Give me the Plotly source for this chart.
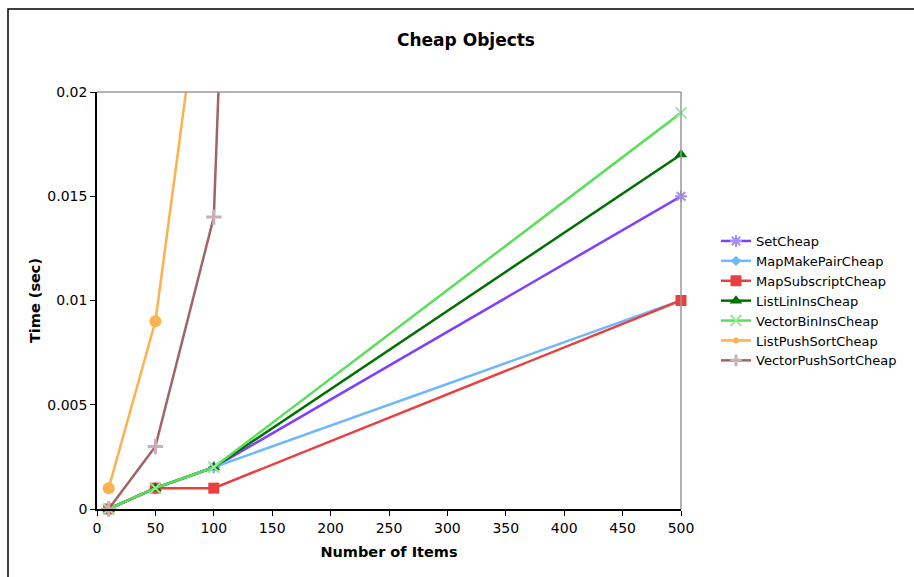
import plotly.graph_objects as go

items = [10, 50, 100, 500]
series_names = ["SetCheap", "MapMakePairCheap", "MapSubscriptCheap", "ListLinInsCheap",
                "VectorBinInsCheap", "ListPushSortCheap", "VectorPushSortCheap"]
set_cheap = [0.0, 0.001, 0.002, 0.015]
map_make_pair = [0.0, 0.001, 0.002, 0.010]
map_subscript = [0.0, 0.001, 0.001, 0.010]
list_lin_ins = [0.0, 0.001, 0.002, 0.017]
vector_bin_ins = [0.0, 0.001, 0.002, 0.019]
list_push_sort = [0.001, 0.009, 0.030, 0.70]
vector_push_sort = [0.0, 0.003, 0.014, 0.62]

x_ticks = list(range(0, 501, 50))
y_ticks = [0, 0.005, 0.01, 0.015, 0.02]
y_tick_labels = ["0", "0.005", "0.01", "0.015", "0.02"]

styles = [
    dict(color="#7F3FFF", mcolor="#A98BFF", symbol="asterisk", size=10, mline=2),
    dict(color="#6FB7FF", mcolor="#6FB7FF", symbol="diamond", size=8, mline=0),
    dict(color="#E84040", mcolor="#E84040", symbol="square", size=11, mline=0),
    dict(color="#007000", mcolor="#007000", symbol="triangle-up", size=11, mline=0),
    dict(color="#5ADF5A", mcolor="#9BE89B", symbol="x-thin", size=11, mline=2),
    dict(color="#FFB04F", mcolor="#FFB04F", symbol="circle", size=12, mline=0),
    dict(color="#A06464", mcolor="#C9AFB8", symbol="cross-thin", size=11, mline=3),
]
data = [set_cheap, map_make_pair, map_subscript, list_lin_ins,
        vector_bin_ins, list_push_sort, vector_push_sort]

fig = go.Figure()
for name, ys, st in zip(series_names, data, styles):
    sizes = [st["size"] if y <= 0.0201 else 0 for y in ys]
    fig.add_trace(go.Scatter(
        x=items, y=ys, name=name, mode="lines+markers",
        line=dict(color=st["color"], width=2.5),
        marker=dict(symbol=st["symbol"], size=sizes, color=st["mcolor"], opacity=1,
                    line=dict(color=st["mcolor"], width=st["mline"])),
        cliponaxis=False,
    ))

font_family = "DejaVu Sans, Verdana, sans-serif"
fig.update_layout(
    width=914, height=577,
    margin=dict(l=97, r=233, t=92, b=68),
    paper_bgcolor="white", plot_bgcolor="white",
    font=dict(family=font_family, size=14, color="black"),
    title=dict(text="<b>Cheap Objects</b>", x=466 / 914, xanchor="center",
               y=1 - 40 / 577, yanchor="middle", font=dict(size=17)),
    showlegend=True,
    legend=dict(x=(716 - 97) / 584, xanchor="left", y=(509 - 301) / 417, yanchor="middle",
                font=dict(size=13), bgcolor="rgba(0,0,0,0)", tracegroupgap=0,
                itemwidth=30),
    xaxis=dict(range=[0, 500], tickvals=x_ticks, showgrid=False, zeroline=False,
               showline=True, linecolor="black", linewidth=1.5,
               ticks="outside", ticklen=5, tickcolor="black",
               title=dict(text="<b>Number of Items</b>", font=dict(size=14.5), standoff=12)),
    yaxis=dict(range=[0, 0.02], tickvals=y_ticks, ticktext=y_tick_labels,
               showgrid=False, zeroline=False,
               showline=True, linecolor="black", linewidth=1.5,
               ticks="outside", ticklen=5, tickcolor="black",
               title=dict(text="<b>Time (sec)</b>", font=dict(size=14.5), standoff=3)),
    shapes=[
        dict(type="line", xref="paper", yref="paper", x0=0, x1=1, y0=1, y1=1,
             line=dict(color="#999999", width=1.5)),
        dict(type="line", xref="paper", yref="paper", x0=1, x1=1, y0=0, y1=1,
             line=dict(color="#999999", width=1.5)),
        dict(type="rect", xref="paper", yref="paper",
             x0=(8 - 97) / 584, x1=(930 - 97) / 584,
             y0=-(600 - 509) / 417, y1=1 + (92 - 9) / 417,
             line=dict(color="black", width=1.5), layer="below"),
    ],
)

fig.write_html("out.html")
